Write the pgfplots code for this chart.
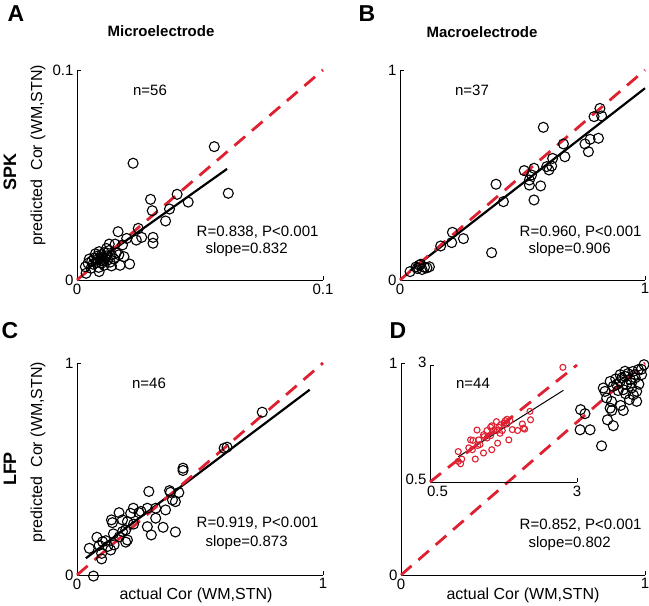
\documentclass[border=0pt]{standalone}
\usepackage{pgfplots}
\pgfplotsset{compat=1.18}
\usepackage{fontspec}
\setmainfont{Liberation Sans}
\definecolor{dred}{RGB}{222,32,48}
\newcommand\fa{\fontsize{15}{18}\selectfont}
\newcommand\fl{\fontsize{16}{19}\selectfont}
\newcommand\fb{\fontsize{15}{18}\selectfont\bfseries}
\newcommand\fL{\fontsize{23}{26}\selectfont\bfseries}
\newcommand\fs{\fontsize{18}{21}\selectfont\bfseries}
\pgfplotsset{
 myax/.style={scale only axis, axis x line=bottom, axis y line=left,
   axis line style={-, line width=0.9pt, black}, tick align=inside,
   major tick length=4pt, tick style={line width=0.9pt, black},
   /pgf/number format/assume math mode=true,
   tick label style={font=\fontsize{15}{18}\selectfont},
   anchor=south west, clip=false},
 circ/.style={only marks, mark=o, mark size=5pt, mark options={line width=1.1pt, black}},
 ident/.style={dred, line width=2.8pt, dash pattern=on 14pt off 9pt, no marks},
 regl/.style={black, line width=2.2pt, no marks},
}
\begin{document}
\begin{tikzpicture}
\useasboundingbox (0,0) rectangle (649pt,606pt);
% ---------- A ----------
\begin{axis}[myax, at={(77pt,326pt)}, width=246pt, height=210pt,
  xmin=0,xmax=0.1,ymin=0,ymax=0.1, xtick={0,0.1}, ytick={0,0.1},
  xticklabels={0,0.1}, yticklabels={0,0.1}]
\addplot[circ] coordinates {
(0.0558,0.0635)(0.0228,0.0556)(0.0615,0.0413)(0.0407,0.0408)(0.0452,0.0371)
(0.0299,0.0384)(0.0306,0.0330)(0.0376,0.0338)(0.0360,0.0281)(0.0249,0.0246)
(0.0263,0.0203)(0.0241,0.0190)(0.0309,0.0203)(0.0309,0.0175)(0.0167,0.0230)
(0.0202,0.0198)(0.0155,0.0171)(0.0185,0.0167)(0.0131,0.0171)(0.0191,0.0111)
(0.0214,0.0076)(0.0175,0.0070)(0.0140,0.0067)(0.0090,0.0040)(0.0057,0.0056)
(0.0034,0.0063)(0.0037,0.0032)
(0.0060,0.0090)(0.0070,0.0105)(0.0080,0.0095)(0.0085,0.0115)(0.0095,0.0100)
(0.0100,0.0120)(0.0105,0.0090)(0.0110,0.0130)(0.0115,0.0105)(0.0120,0.0115)
(0.0125,0.0095)(0.0130,0.0140)(0.0065,0.0075)(0.0075,0.0125)(0.0090,0.0135)
(0.0100,0.0080)(0.0110,0.0070)(0.0140,0.0120)(0.0150,0.0100)(0.0160,0.0130)
(0.0050,0.0100)(0.0045,0.0080)(0.0088,0.0060)(0.0120,0.0150)(0.0135,0.0085)
(0.0078,0.0082)(0.0098,0.0108)(0.0108,0.0098)(0.0170,0.0120)};
\addplot[regl] coordinates {(0.004,0.0055)(0.061,0.0529)};
\addplot[ident] coordinates {(0,0)(0.1,0.1)};
\end{axis}
% ---------- B ----------
\begin{axis}[myax, at={(400pt,326pt)}, width=245pt, height=210pt,
  xmin=0,xmax=1,ymin=0,ymax=1, xtick={0,1}, ytick={0,1},
  xticklabels={0,1}, yticklabels={0,1}]
\addplot[circ] coordinates {
(0.816,0.817)(0.792,0.778)(0.823,0.781)(0.810,0.675)(0.776,0.670)(0.755,0.648)
(0.769,0.611)(0.667,0.648)(0.673,0.587)(0.585,0.727)(0.623,0.579)(0.619,0.543)
(0.599,0.540)(0.608,0.524)(0.547,0.532)(0.507,0.521)(0.537,0.500)(0.528,0.476)
(0.528,0.452)(0.574,0.448)(0.547,0.381)(0.392,0.456)(0.422,0.373)(0.214,0.227)
(0.211,0.178)(0.259,0.197)(0.166,0.162)(0.374,0.130)(0.120,0.063)(0.079,0.071)
(0.070,0.055)(0.090,0.050)(0.041,0.040)(0.100,0.060)(0.065,0.062)(0.085,0.075)
(0.110,0.058)};
\addplot[regl] coordinates {(0.04,0.043)(1.0,0.913)};
\addplot[ident] coordinates {(0,0)(1,1)};
\end{axis}
% ---------- C ----------
\begin{axis}[myax, at={(77pt,31pt)}, width=246pt, height=212pt,
  xmin=0,xmax=1,ymin=0,ymax=1, xtick={0,1}, ytick={0,1},
  xticklabels={0,1}, yticklabels={0,1}]
\addplot[circ] coordinates {
(0.753,0.768)(0.598,0.598)(0.610,0.603)(0.431,0.504)(0.431,0.493)(0.292,0.394)
(0.376,0.398)(0.380,0.390)(0.414,0.389)(0.400,0.346)(0.388,0.354)(0.360,0.307)
(0.320,0.315)(0.320,0.268)(0.286,0.315)(0.252,0.294)(0.229,0.315)(0.218,0.291)
(0.171,0.294)(0.140,0.260)(0.144,0.247)(0.185,0.260)(0.205,0.252)(0.198,0.213)
(0.286,0.228)(0.302,0.189)(0.350,0.225)(0.400,0.203)(0.148,0.194)(0.205,0.165)
(0.198,0.155)(0.172,0.180)(0.081,0.178)(0.104,0.157)(0.117,0.162)(0.151,0.142)
(0.137,0.118)(0.050,0.126)(0.100,0.102)(0.100,0.076)(0.067,-0.005)(0.090,0.140)
(0.125,0.135)(0.185,0.205)(0.230,0.240)(0.260,0.300)};
\addplot[regl] coordinates {(0.036,0.079)(0.946,0.874)};
\addplot[ident] coordinates {(0,0)(1,1)};
\end{axis}
% ---------- D ----------
\begin{axis}[myax, at={(401pt,31pt)}, width=244pt, height=212pt,
  xmin=0,xmax=1,ymin=0,ymax=1, xtick={0,1}, ytick={0,1},
  xticklabels={0,1}, yticklabels={0,1}]
\addplot[circ] coordinates {
(0.996,0.992)(0.973,0.969)(0.918,0.937)(0.940,0.921)(0.829,0.882)(0.836,0.866)
(0.857,0.913)(0.884,0.898)(0.898,0.913)(0.911,0.874)(0.945,0.882)(0.966,0.866)
(0.843,0.835)(0.863,0.819)(0.857,0.787)(0.864,0.776)(0.911,0.776)(0.936,0.827)
(0.966,0.819)(0.952,0.850)(0.736,0.780)(0.754,0.761)(0.734,0.685)(0.775,0.685)
(0.846,0.732)(0.870,0.704)(0.822,0.609)(0.918,0.961)(0.959,0.945)(0.898,0.945)
(0.925,0.898)(0.986,0.945)(0.945,0.906)(0.905,0.930)(0.930,0.950)(0.880,0.925)
(0.960,0.930)(0.975,0.900)(0.890,0.870)(0.920,0.855)(0.950,0.960)(0.870,0.890)
(0.985,0.970)(0.900,0.800)};
\addplot[ident] coordinates {(0,0)(1,1)};
\end{axis}
% ---------- D inset ----------
\begin{axis}[myax, at={(430pt,124pt)}, width=147pt, height=117pt,
  xmin=0.5,xmax=3,ymin=0.5,ymax=3, xtick={0.5,3}, ytick={0.5,3},
  xticklabels={\makebox[0pt][l]{\hspace{-3pt}0.5},3}, yticklabels={0.5,3},
  yticklabel style={yshift=3pt}]
\addplot[only marks, mark=o, mark size=3pt, mark options={line width=1.1pt, dred}] coordinates {
(2.76,2.95)(2.20,2.01)(2.21,1.83)(2.09,1.65)(2.11,1.63)(1.99,1.60)(1.81,1.84)
(1.78,1.81)(1.76,1.76)(1.63,1.79)(1.55,1.70)(1.69,1.54)(1.84,1.40)(1.65,1.33)
(1.55,1.19)(1.41,1.51)(1.42,1.47)(1.30,1.61)(1.23,1.39)(1.19,1.40)(1.31,1.28)
(1.35,1.30)(1.16,1.23)(1.27,0.99)(1.41,1.12)(0.98,1.15)(1.04,0.99)(1.02,0.89)
(0.98,0.94)(1.53,1.67)(1.47,1.60)(1.58,1.60)(1.67,1.67)(1.73,1.60)(1.53,1.49)
(1.22,1.19)(1.33,1.40)(1.47,1.44)(1.64,1.60)(1.81,1.74)(2.07,1.74)(1.86,1.81)
(1.70,1.72)(1.90,1.62)};
\addplot[black, line width=1pt, no marks] coordinates {(0.98,1.04)(2.77,2.46)};
\addplot[ident] coordinates {(0.5,0.5)(3,3)};
\end{axis}
% ---------- texts ----------
\node[font=\fL] at (16pt,592pt) {A};
\node[font=\fL] at (367pt,592pt) {B};
\node[font=\fL] at (10pt,275pt) {C};
\node[font=\fL] at (398pt,275pt) {D};
\node[font=\fb] at (161pt,575pt) {Microelectrode};
\node[font=\fb] at (482pt,574pt) {Macroelectrode};
\node[font=\fs, rotate=90] at (10pt,434pt) {SPK};
\node[font=\fs, rotate=90] at (10pt,137pt) {LFP};
\node[font=\fl, rotate=90] at (38pt,451pt) {predicted\ \ Cor (WM,STN)};
\node[font=\fl, rotate=90] at (38pt,154pt) {predicted\ \ Cor (WM,STN)};
\node[font=\fl] at (196pt,11pt) {actual Cor (WM,STN)};
\node[font=\fl] at (523pt,11pt) {actual Cor (WM,STN)};
\node[font=\fa] at (150pt,516pt) {n=56};
\node[font=\fa] at (472pt,516pt) {n=37};
\node[font=\fa] at (149pt,223pt) {n=46};
\node[font=\fa] at (473pt,223pt) {n=44};
\node[font=\fa, anchor=east] at (322pt,374pt) {R=0.838, P<0.001};
\node[font=\fa, anchor=east] at (645pt,374pt) {R=0.960, P<0.001};
\node[font=\fa, anchor=east] at (322pt,83pt) {R=0.919, P<0.001};
\node[font=\fa, anchor=east] at (645pt,81pt) {R=0.852, P<0.001};
\node[font=\fa, anchor=west] at (202pt,356pt) {slope=0.832};
\node[font=\fa, anchor=west] at (525pt,356pt) {slope=0.906};
\node[font=\fa, anchor=west] at (202pt,63pt) {slope=0.873};
\node[font=\fa, anchor=west] at (525pt,62pt) {slope=0.802};
\end{tikzpicture}
\end{document}
